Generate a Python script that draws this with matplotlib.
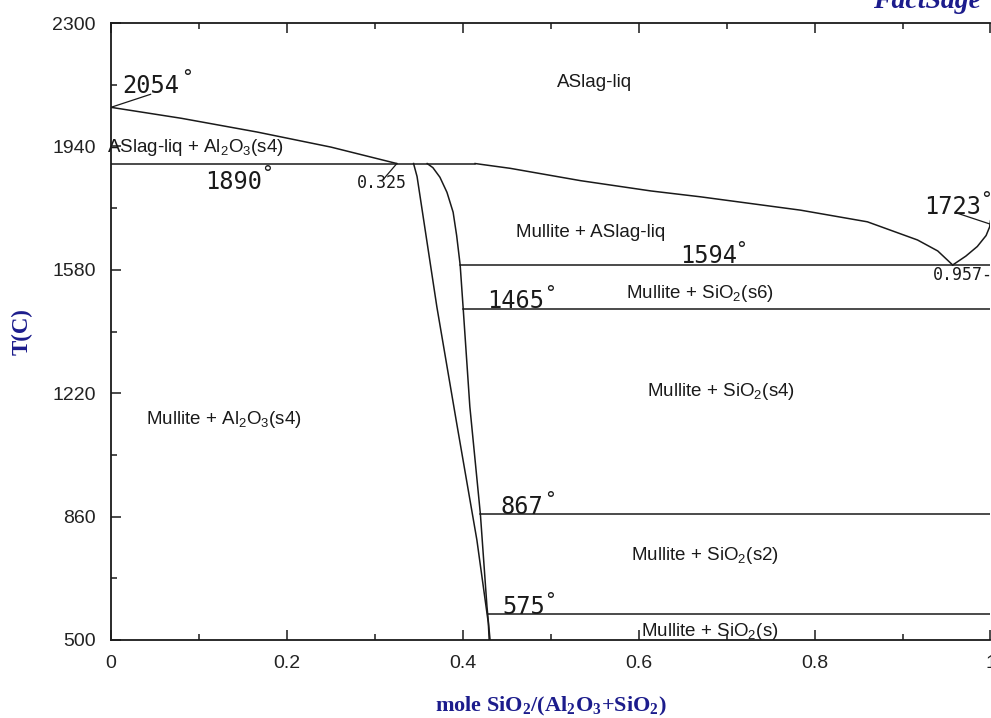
import matplotlib
matplotlib.use("Agg")
import matplotlib.pyplot as plt
import numpy as np

# phase boundaries, x = mole SiO2/(Al2O3+SiO2), T in C
liq_al2o3_x = [0.0, 0.08, 0.166, 0.25, 0.325]
liq_al2o3_T = [2054, 2022, 1982, 1938, 1890]

liq_mull_x = [0.414, 0.454, 0.534, 0.614, 0.670, 0.784, 0.860, 0.917, 0.940, 0.957]
liq_mull_T = [1890, 1876, 1840, 1810, 1793, 1754, 1720, 1667, 1635, 1594]

liq_sio2_x = [0.957, 0.972, 0.985, 0.995, 0.999, 1.0]
liq_sio2_T = [1594, 1620, 1648, 1680, 1705, 1723]

mull_left_x = [0.344, 0.348, 0.3705, 0.393, 0.416, 0.429, 0.430]
mull_left_T = [1890, 1852, 1472, 1133, 792, 550, 500]

mull_right_x = [0.3595, 0.366, 0.374, 0.382, 0.389, 0.393, 0.397, 0.4005, 0.408, 0.420, 0.4275, 0.431]
mull_right_T = [1890, 1878, 1850, 1806, 1748, 1680, 1594, 1465, 1181, 867, 597, 500]

# invariant lines: (T, x start, x end)
invariants = [(1890, 0.0, 0.414), (1594, 0.397, 1.0), (1465, 0.4005, 1.0),
              (867, 0.420, 1.0), (575, 0.429, 1.0)]

yticks = [500, 860, 1220, 1580, 1940, 2300]
xticks = [0, 0.2, 0.4, 0.6, 0.8, 1]

navy = "#1c1c8c"
lc = "#1a1a1a"

plt.rcParams["mathtext.fontset"] = "custom"
plt.rcParams["mathtext.rm"] = "Liberation Sans"
plt.rcParams["mathtext.it"] = "Liberation Sans"
plt.rcParams["mathtext.bf"] = "Liberation Serif:bold"

fig = plt.figure(figsize=(9.91, 7.18), dpi=100)
ax = fig.add_axes([111 / 991, 78 / 718, 879.5 / 991, 617 / 718])

lw = 1.1
ax.plot(liq_al2o3_x, liq_al2o3_T, color=lc, lw=lw)
ax.plot(liq_mull_x, liq_mull_T, color=lc, lw=lw)
ax.plot(liq_sio2_x, liq_sio2_T, color=lc, lw=lw)
ax.plot(mull_left_x, mull_left_T, color=lc, lw=lw)
ax.plot(mull_right_x, mull_right_T, color=lc, lw=lw)
for T, x0, x1 in invariants:
    ax.plot([x0, x1], [T, T], color=lc, lw=lw)

# leader lines
ax.plot([0.0, 0.045], [2054, 2092], color=lc, lw=0.9)
ax.plot([0.325, 0.31], [1890, 1845], color=lc, lw=0.9)
ax.plot([0.960, 1.0], [1747, 1713], color=lc, lw=0.9)

ax.set_xlim(0, 1)
ax.set_ylim(500, 2300)
ax.set_xticks(xticks)
ax.set_xticklabels(["0", "0.2", "0.4", "0.6", "0.8", "1"])
ax.set_xticks(np.arange(0.1, 1.0, 0.2), minor=True)
ax.set_yticks(yticks)
ax.set_yticks([680, 1040, 1400, 1760, 2120], minor=True)
ax.tick_params(which="both", direction="in", top=True, right=False, colors=lc,
               labelsize=14, pad=11)
ax.tick_params(which="major", length=7, width=1.1)
ax.tick_params(which="minor", length=4.5, width=1.1)
for lab in ax.get_xticklabels() + ax.get_yticklabels():
    lab.set_family(["Liberation Sans Narrow", "Liberation Sans"])
    lab.set_color("#222222")
ax.spines["right"].set_visible(False)
for s in ["left", "top", "bottom"]:
    ax.spines[s].set_linewidth(1.3)
    ax.spines[s].set_color(lc)

ax.set_xlabel(r"mole SiO$_\mathbf{2}$/(Al$_\mathbf{2}$O$_\mathbf{3}$+SiO$_\mathbf{2}$)",
              family="Liberation Serif", fontweight="bold", fontsize=16,
              color=navy, labelpad=16)
ax.set_ylabel("T(C)", family="Liberation Serif", fontweight="bold",
              fontsize=16.5, color=navy, labelpad=14)

# temperature labels with degree marks
mono = "DejaVu Sans Mono"
temps = [("2054", 0.0125, 2116, 0.080, 2142),
         ("1890", 0.107, 1836, 0.171, 1862),
         ("1594", 0.647, 1620, 0.710, 1640),
         ("1465", 0.428, 1489, 0.493, 1512),
         ("867", 0.4425, 888, 0.492, 911),
         ("575", 0.445, 596, 0.493, 616),
         ("1723", 0.924, 1763, 0.988, 1786)]
for s, x, T, dx, dT in temps:
    ax.text(x, T, s, family=mono, fontsize=17, color=lc, ha="left", va="center")
    ax.text(dx, dT, "\u00b0", family=mono, fontsize=14, color=lc, ha="left", va="center")

ax.text(0.280, 1833, "0.325", family=mono, fontsize=12, color=lc, ha="left", va="center")
ax.text(0.935, 1565, "0.957-", family=mono, fontsize=12, color=lc, ha="left",
        va="center", clip_on=False)

sans = "Liberation Sans"
phases = [("ASlag-liq", 0.5495, 2125),
          ("Mullite + ASlag-liq", 0.545, 1690),
          (r"Mullite + SiO$_2$(s6)", 0.670, 1510),
          (r"Mullite + SiO$_2$(s4)", 0.694, 1224),
          (r"Mullite + Al$_2$O$_3$(s4)", 0.1285, 1143),
          (r"Mullite + SiO$_2$(s2)", 0.675, 746),
          (r"Mullite + SiO$_2$(s)", 0.681, 524)]
for s, x, T in phases:
    ax.text(x, T, s, family=sans, fontsize=13.5, color=lc, ha="center", va="center")
ax.text(-0.004, 1936, r"ASlag-liq + Al$_2$O$_3$(s4)", family=sans, fontsize=13.5,
        color=lc, ha="left", va="center")

# cropped logo at top right
fig.text(0.935, 1.0 - 8 / 718, "FactSage", family="Liberation Serif", fontweight="bold",
         style="italic", fontsize=20, color=navy, ha="center", va="baseline")

fig.savefig("out.png", dpi=100)
